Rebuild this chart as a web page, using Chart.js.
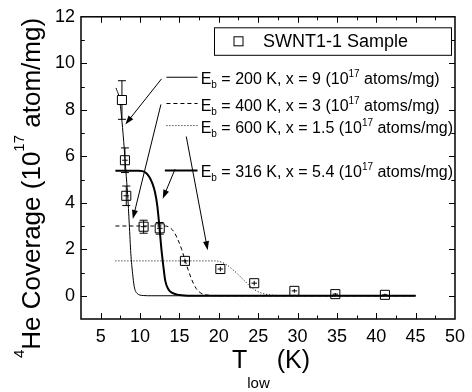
<!DOCTYPE html>
<html>
<head>
<meta charset="utf-8">
<script src="https://cdn.jsdelivr.net/npm/chart.js@4/dist/chart.umd.min.js"></script>
<style>
  html, body { margin: 0; padding: 0; background: #fff; }
  canvas { display: block; }
</style>
</head>
<body>
<canvas id="chart" width="472" height="392"></canvas>
<script>
// axis ticks
const xTicks = [5, 10, 15, 20, 25, 30, 35, 40, 45, 50];
const yTicks = [0, 2, 4, 6, 8, 10, 12];

// SWNT1-1 sample (measured)
const tLow = [7.7, 8.08, 8.25, 10.45, 12.5, 15.7, 20.2, 24.5, 29.6, 34.8, 41.1];
const coverage = [8.42, 5.83, 4.3, 2.97, 2.9, 1.5, 1.15, 0.54, 0.21, 0.07, 0.04];
const coverageErr = [0.83, 0.53, 0.42, 0.28, 0.25, 0.1, 0.1, 0.1, 0.08, 0.05, 0.05];
const tLowErr = [0, 0.35, 0.35, 0.35, 0.35, 0.35, 0.35, 0.35, 0.35, 0.35, 0.35];

// fitted curves
const fit200T = [6.95, 7.4, 7.7, 8.0, 8.2, 8.42, 8.63, 8.83, 9.05, 9.26, 9.6, 10.4, 11.5, 45];
const fit200C = [8.94, 8.43, 7.52, 6.3, 5.36, 4.37, 3.09, 1.81, 0.97, 0.4, 0.11, 0.01, 0, 0];
const fit400T = [6.87, 13.2, 13.8, 14.3, 14.8, 15.3, 15.7, 16.1, 16.5, 17.0, 17.5, 18.0, 18.8, 20, 45];
const fit400C = [3.0, 3.0, 2.93, 2.75, 2.42, 1.98, 1.55, 1.12, 0.75, 0.38, 0.17, 0.07, 0.02, 0, 0];
const fit600T = [6.87, 19.5, 20.3, 21.0, 21.6, 22.2, 22.8, 23.4, 24.0, 24.6, 25.3, 26.2, 27.5, 30, 45];
const fit600C = [1.5, 1.5, 1.45, 1.33, 1.17, 1.0, 0.8, 0.6, 0.4, 0.25, 0.13, 0.05, 0.01, 0, 0];
const fit316T = [6.87, 9.8, 10.3, 10.8, 11.2, 11.6, 11.9, 12.2, 12.45, 12.7, 12.95, 13.2, 13.6, 14.1, 15.0, 16.5, 45];
const fit316C = [5.38, 5.38, 5.36, 5.27, 5.1, 4.8, 4.45, 3.85, 3.0, 2.05, 1.3, 0.65, 0.28, 0.12, 0.03, 0, 0];

// in-plot key labels
const fitLabels = [
  ['200', '9'],
  ['400', '3'],
  ['600', '1.5'],
  ['316', '5.4']
];

const FONT = '"Liberation Sans", Arial, Helvetica, sans-serif';
const pts = (xs, ys) => xs.map((x, i) => ({ x: x, y: ys[i] }));

function richText(ctx, parts, x, y) {
  let cx = x;
  parts.forEach(p => {
    ctx.font = p.size + 'px ' + FONT;
    ctx.fillText(p.t, cx, y + (p.dy || 0));
    cx += ctx.measureText(p.t).width;
  });
  return cx - x;
}

function arrow(ctx, x1, y1, x2, y2) {
  const a = Math.atan2(y2 - y1, x2 - x1);
  const len = 9, hw = 3;
  ctx.beginPath();
  ctx.moveTo(x1, y1);
  ctx.lineTo(x2 - Math.cos(a) * len * 0.6, y2 - Math.sin(a) * len * 0.6);
  ctx.stroke();
  ctx.beginPath();
  ctx.moveTo(x2, y2);
  ctx.lineTo(x2 - Math.cos(a) * len - Math.sin(a) * hw, y2 - Math.sin(a) * len + Math.cos(a) * hw);
  ctx.lineTo(x2 - Math.cos(a) * len + Math.sin(a) * hw, y2 - Math.sin(a) * len - Math.cos(a) * hw);
  ctx.closePath();
  ctx.fill();
}

const decorations = {
  id: 'decorations',
  beforeDatasetsDraw(chart) {
    const { ctx, scales: { x, y } } = chart;
    ctx.save();
    ctx.strokeStyle = '#000';
    ctx.lineWidth = 1;
    tLow.forEach((t, i) => {
      const px = x.getPixelForValue(t);
      const top = y.getPixelForValue(coverage[i] + coverageErr[i]);
      const bot = y.getPixelForValue(coverage[i] - coverageErr[i]);
      ctx.beginPath();
      ctx.moveTo(px, top); ctx.lineTo(px, bot);
      if (bot - top > 10) {
        ctx.moveTo(px - 4, top); ctx.lineTo(px + 4, top);
        ctx.moveTo(px - 4, bot); ctx.lineTo(px + 4, bot);
      }
      if (tLowErr[i] > 0) {
        const py = y.getPixelForValue(coverage[i]);
        ctx.moveTo(x.getPixelForValue(t - tLowErr[i]), py);
        ctx.lineTo(x.getPixelForValue(t + tLowErr[i]), py);
      }
      ctx.stroke();
    });
    ctx.restore();
  },
  afterDatasetsDraw(chart) {
    const { ctx, chartArea: ca, scales: { x, y } } = chart;
    ctx.save();
    ctx.strokeStyle = '#000';
    ctx.fillStyle = '#000';

    // frame
    ctx.lineWidth = 1.5;
    ctx.strokeRect(ca.left, ca.top, ca.right - ca.left, ca.bottom - ca.top);

    // inward ticks on all four sides
    ctx.lineWidth = 1;
    ctx.beginPath();
    xTicks.forEach(v => {
      [[v, 6], [v - 2.5, 3.5]].forEach(([val, len]) => {
        const px = Math.round(x.getPixelForValue(val)) + 0.5;
        if (px <= ca.left + 1 || px >= ca.right - 1) return;
        ctx.moveTo(px, ca.bottom); ctx.lineTo(px, ca.bottom - len);
        ctx.moveTo(px, ca.top); ctx.lineTo(px, ca.top + len);
      });
    });
    yTicks.forEach(v => {
      [[v, 6], [v + 1, 3.5], [v - 1, 3.5]].forEach(([val, len]) => {
        const py = Math.round(y.getPixelForValue(val)) + 0.5;
        if (py <= ca.top + 1 || py >= ca.bottom - 1) return;
        ctx.moveTo(ca.left, py); ctx.lineTo(ca.left + len, py);
        ctx.moveTo(ca.right, py); ctx.lineTo(ca.right - len, py);
      });
    });
    ctx.stroke();

    // arrows from the key to the curves (data coordinates)
    const arrows = [
      [12.73, 9.33, 8.13, 7.37],
      [12.65, 8.23, 9.08, 3.3],
      [15.87, 6.85, 18.59, 1.96],
      [14.45, 5.45, 12.88, 4.17]
    ];
    ctx.lineWidth = 1;
    arrows.forEach(a => arrow(ctx,
      x.getPixelForValue(a[0]), y.getPixelForValue(a[1]),
      x.getPixelForValue(a[2]), y.getPixelForValue(a[3])));

    // in-plot key for the fits
    const rowsY = [9.4, 8.27, 7.32, 5.39];
    const dashes = [[], [4, 3], [1, 2], []];
    const widths = [1, 1, 1, 2];
    const starts = [13.35, 13.35, 13.35, 13.15];
    ctx.textBaseline = 'alphabetic';
    ctx.textAlign = 'left';
    rowsY.forEach((ry, i) => {
      const py = y.getPixelForValue(ry);
      ctx.save();
      ctx.setLineDash(dashes[i]);
      ctx.lineWidth = widths[i];
      ctx.beginPath();
      ctx.moveTo(x.getPixelForValue(starts[i]), py);
      ctx.lineTo(x.getPixelForValue(17.3), py);
      ctx.stroke();
      ctx.restore();
      const [eb, xv] = fitLabels[i];
      richText(ctx, [
        { t: 'E', size: 16 },
        { t: 'b', size: 10, dy: 4 },
        { t: ' = ' + eb + ' K, x = ' + xv + ' (10', size: 16 },
        { t: '17', size: 10, dy: -7 },
        { t: ' atoms/mg)', size: 16 }
      ], x.getPixelForValue(17.7), py + 7);
    });

    // boxed legend for the sample
    const bx = ca.left + 133, by = ca.top + 10.5, bw = 237, bh = 27.5;
    ctx.fillStyle = '#fff';
    ctx.fillRect(bx, by, bw, bh);
    ctx.lineWidth = 1;
    ctx.strokeRect(bx + 0.5, by + 0.5, bw, bh);
    ctx.strokeRect(bx + 20, by + 9.5, 9, 9);
    ctx.fillStyle = '#000';
    ctx.font = '18px ' + FONT;
    ctx.textBaseline = 'middle';
    ctx.fillText('SWNT1-1 Sample', bx + 49, by + 15);

    // axis titles
    ctx.textBaseline = 'alphabetic';
    richText(ctx, [
      { t: 'T', size: 25 },
      { t: 'low', size: 15, dy: 20 },
      { t: ' (K)', size: 25 }
    ], 232, 368);

    ctx.save();
    ctx.translate(40, 358);
    ctx.rotate(-Math.PI / 2);
    richText(ctx, [
      { t: '4', size: 15, dy: -16 },
      { t: 'He Coverage (10', size: 26 },
      { t: '17', size: 15, dy: -16 },
      { t: ' atom/mg)', size: 26 }
    ], 0, 0);
    ctx.restore();

    ctx.restore();
  }
};

const curve = (xs, ys, dash, width) => ({
  data: pts(xs, ys),
  showLine: true,
  borderColor: '#000',
  borderWidth: width,
  borderDash: dash,
  pointRadius: 0,
  cubicInterpolationMode: 'monotone',
  order: 2
});

new Chart(document.getElementById('chart'), {
  type: 'scatter',
  data: {
    datasets: [
      curve(fit200T, fit200C, [], 1),
      curve(fit400T, fit400C, [4, 3], 1),
      curve(fit600T, fit600C, [1, 2], 1),
      curve(fit316T, fit316C, [], 2),
      {
        data: pts(tLow, coverage),
        pointStyle: 'rect',
        pointRadius: 6.4,
        pointBorderWidth: 1,
        pointBorderColor: '#000',
        pointBackgroundColor: tLow.map((v, i) => i === 0 ? '#fff' : 'rgba(0,0,0,0)'),
        showLine: false,
        order: 1
      }
    ]
  },
  options: {
    responsive: false,
    animation: false,
    layout: { padding: { top: 14, right: 12, left: 0, bottom: 0 } },
    plugins: { legend: { display: false }, tooltip: { enabled: false } },
    scales: {
      x: {
        type: 'linear', min: 2.5, max: 50,
        afterBuildTicks: s => { s.ticks = xTicks.map(v => ({ value: v })); },
        afterFit: s => { s.height = 73; },
        grid: { display: false, drawTicks: false },
        border: { display: false },
        ticks: { color: '#000', padding: 7, maxRotation: 0, font: { family: FONT, size: 18 } }
      },
      y: {
        type: 'linear', min: -1, max: 12,
        afterBuildTicks: s => { s.ticks = yTicks.map(v => ({ value: v })); },
        afterFit: s => { s.width = 81; },
        grid: { display: false, drawTicks: false },
        border: { display: false },
        ticks: { color: '#000', padding: 6, font: { family: FONT, size: 18 } }
      }
    }
  },
  plugins: [decorations]
});
</script>
</body>
</html>
